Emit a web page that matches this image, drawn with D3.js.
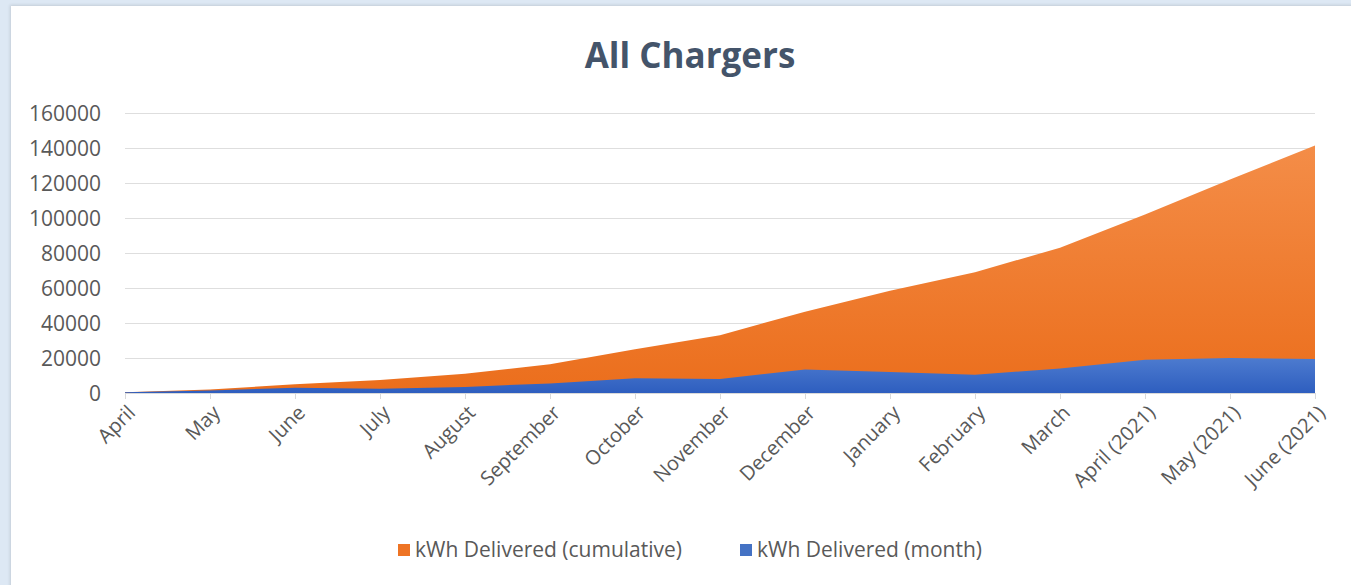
<!DOCTYPE html>
<html>
<head>
<meta charset="utf-8">
<script src="https://cdn.jsdelivr.net/npm/d3@7"></script>
<style>
  body { margin: 0; background: #dde8f4; font-family: 'Open Sans', sans-serif; }
  .card { position: absolute; left: 11px; top: 6px; width: 1345px; height: 585px; background: #fff;
          box-shadow: -1px -1px 3px rgba(0,0,0,0.12); }
  .tick text { fill: #595959; }
  .grid line { stroke: #dedede; }
</style>
</head>
<body>
<div class="card"></div>
<script>
var months = ['April', 'May', 'June', 'July', 'August', 'September', 'October', 'November',
              'December', 'January', 'February', 'March', 'April (2021)', 'May (2021)', 'June (2021)'];
var cumulative = [500, 2000, 5000, 7500, 11000, 16500, 25000, 33000, 46500, 58500, 69000, 83000, 102000, 122000, 141500];
var monthly = [500, 1500, 3000, 2500, 3500, 5500, 8500, 8000, 13500, 12000, 10500, 14000, 19000, 20000, 19500];
var yTicks = [0, 20000, 40000, 60000, 80000, 100000, 120000, 140000, 160000];

var width = 1351, height = 585,
    margin = { top: 113, left: 125, right: 36, bottom: 192 },
    chartWidth = width - margin.left - margin.right,
    chartHeight = height - margin.top - margin.bottom;

var svg = d3.select('body').append('svg')
  .attr('width', width).attr('height', height)
  .style('position', 'absolute').style('left', 0).style('top', 0);

var defs = svg.append('defs');
function grad (id, c1, c2) {
  var g = defs.append('linearGradient').attr('id', id).attr('x1', 0).attr('y1', 0).attr('x2', 0).attr('y2', 1);
  g.append('stop').attr('offset', '0%').attr('stop-color', c1);
  g.append('stop').attr('offset', '100%').attr('stop-color', c2);
}
grad('gOrange', '#f48d48', '#eb6e1c');
grad('gBlue', '#4d7bcf', '#2e5ebf');

svg.append('text')
  .attr('x', 690).attr('y', 68)
  .attr('text-anchor', 'middle')
  .style('font-size', '35px').style('font-weight', 'bold').style('fill', '#44546a')
  .text('All Chargers');

var g = svg.append('g').attr('transform', 'translate(' + margin.left + ',' + margin.top + ')');

var x = d3.scalePoint().domain(months).range([0, chartWidth]);
var y = d3.scaleLinear().domain([0, 160000]).range([chartHeight, 0]);

g.append('g').attr('class', 'grid')
  .call(d3.axisLeft(y).tickValues(yTicks).tickSize(-chartWidth).tickFormat(''))
  .call(function (s) { s.select('.domain').remove(); });

g.append('g')
  .attr('transform', 'translate(-21,0)')
  .call(d3.axisLeft(y).tickValues(yTicks).tickSize(0).tickFormat(d3.format('d')))
  .attr('font-family', 'Open Sans')
  .call(function (s) { s.select('.domain').remove(); })
  .selectAll('text').style('font-size', '21px').attr('dy', '0.35em');

var data = months.map(function (m, i) { return { m: m, c: cumulative[i], v: monthly[i] }; });

g.append('path').datum(data)
  .attr('fill', 'url(#gOrange)')
  .attr('d', d3.area().x(function (d) { return x(d.m); }).y0(y(0)).y1(function (d) { return y(d.c); }));

g.append('path').datum(data)
  .attr('fill', 'url(#gBlue)')
  .attr('d', d3.area().x(function (d) { return x(d.m); }).y0(y(0)).y1(function (d) { return y(d.v); }));

var xa = g.append('g').attr('transform', 'translate(0,' + chartHeight + ')')
  .call(d3.axisBottom(x).tickSize(6).tickSizeOuter(0))
  .attr('font-family', 'Open Sans');
xa.select('.domain').attr('stroke', '#d9d9d9');
xa.selectAll('line').attr('stroke', '#d9d9d9');
xa.selectAll('text')
  .style('font-size', '20px')
  .style('text-anchor', 'end')
  .attr('x', 0).attr('y', 0)
  .attr('dx', 0).attr('dy', '0.35em')
  .attr('transform', 'translate(6,16) rotate(-45)');

var legend = svg.append('g').attr('transform', 'translate(398,550)');
var items = [['kWh Delivered (cumulative)', '#ee7424', 0], ['kWh Delivered (month)', '#4472c4', 342]];
items.forEach(function (it) {
  legend.append('rect').attr('x', it[2]).attr('y', -6).attr('width', 12).attr('height', 12).attr('fill', it[1]);
  legend.append('text').attr('x', it[2] + 17).attr('y', 7)
    .style('font-size', '21px').style('fill', '#595959').text(it[0]);
});
</script>
</body>
</html>
